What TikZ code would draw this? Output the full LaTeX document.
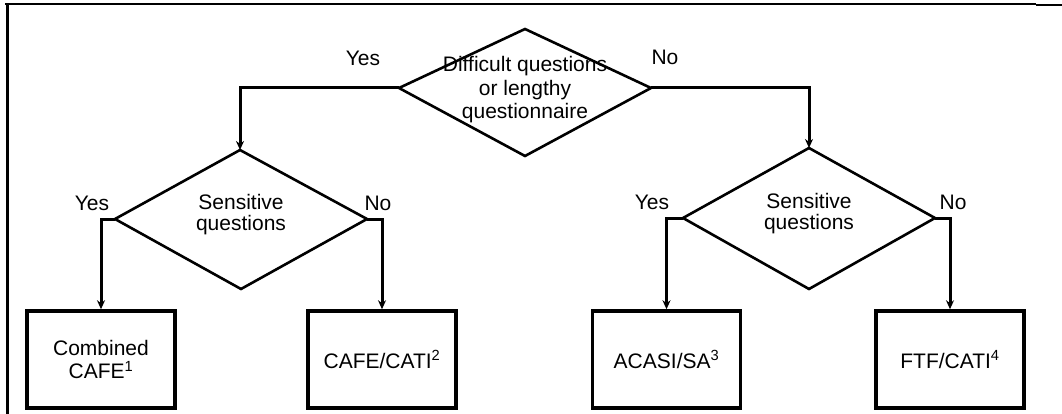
\documentclass[tikz,border=0pt]{standalone}
\usepackage{fontspec}
\setmainfont{Liberation Sans}
\usetikzlibrary{arrows.meta}
\begin{document}
\begin{tikzpicture}[x=1pt,y=-1pt,
  txt/.style={font=\fontsize{21}{23.5}\selectfont, inner sep=0pt, align=center},
  lbl/.style={font=\fontsize{21}{23}\selectfont, inner sep=0pt},
  outbox/.style={draw, line width=3.5pt, minimum width=148pt, minimum height=97pt, inner sep=0pt, align=center, font=\fontsize{21}{23.5}\selectfont},
  dia/.style={line width=2.6pt, line join=miter},
  conn/.style={line width=3pt, -{Stealth[length=9pt,width=8pt]}}
]
\useasboundingbox (0,0) rectangle (1062,414);
% frame
\draw[line width=1.6pt] (5,4) -- (1036,4);
\draw[line width=2.4pt] (1036,5) -- (1062,5);
\draw[line width=3pt] (7,4) -- (7,414);

% top diamond
\coordinate (d1t) at (525,29);
\coordinate (d1l) at (399,88);
\coordinate (d1r) at (651,88);
\coordinate (d1b) at (525,156);
\draw[dia] (d1t) -- (d1r) -- (d1b) -- (d1l) -- cycle;
\node[txt] (t1) at (525,90) {Difficult questions\\or lengthy\\questionnaire};

% left diamond
\coordinate (d2t) at (240,150);
\coordinate (d2l) at (115,219);
\coordinate (d2r) at (367,219);
\coordinate (d2b) at (241,289);
\draw[dia] (d2t) -- (d2r) -- (d2b) -- (d2l) -- cycle;
\node[txt, font=\fontsize{21}{21}\selectfont] (t2) at (241,215) {Sensitive\\questions};

% right diamond
\coordinate (d3t) at (809,148);
\coordinate (d3l) at (683,218);
\coordinate (d3r) at (935,218);
\coordinate (d3b) at (809,289);
\draw[dia] (d3t) -- (d3r) -- (d3b) -- (d3l) -- cycle;
\node[txt, font=\fontsize{21}{21}\selectfont] (t3) at (809,214) {Sensitive\\questions};

% boxes
\node[outbox] (b1) at (101,359.5) {Combined\\CAFE\textsuperscript{1}};
\node[outbox] (b2) at (382,359.5) {CAFE/CATI\textsuperscript{2}};
\node[outbox] (b3) at (666.5,359.5) {ACASI/SA\textsuperscript{3}};
\node[outbox] (b4) at (950,359.5) {FTF/CATI\textsuperscript{4}};

% connectors
\draw[conn] (d1l) -| (d2t);
\draw[conn] (d1r) -| (d3t);
\draw[conn] (d2l) -| (b1.north);
\draw[conn] (d2r) -| (b2.north);
\draw[conn] (d3l) -| (b3.north);
\draw[conn] (d3r) -| (b4.north);

% labels
\node[lbl] (y1) at (363,58) {Yes};
\node[lbl] (n1) at (665,57) {No};
\node[lbl] (y2) at (92,203) {Yes};
\node[lbl] (n2) at (378,203) {No};
\node[lbl] (y3) at (652,202) {Yes};
\node[lbl] (n3) at (953,202) {No};
\end{tikzpicture}
\end{document}
